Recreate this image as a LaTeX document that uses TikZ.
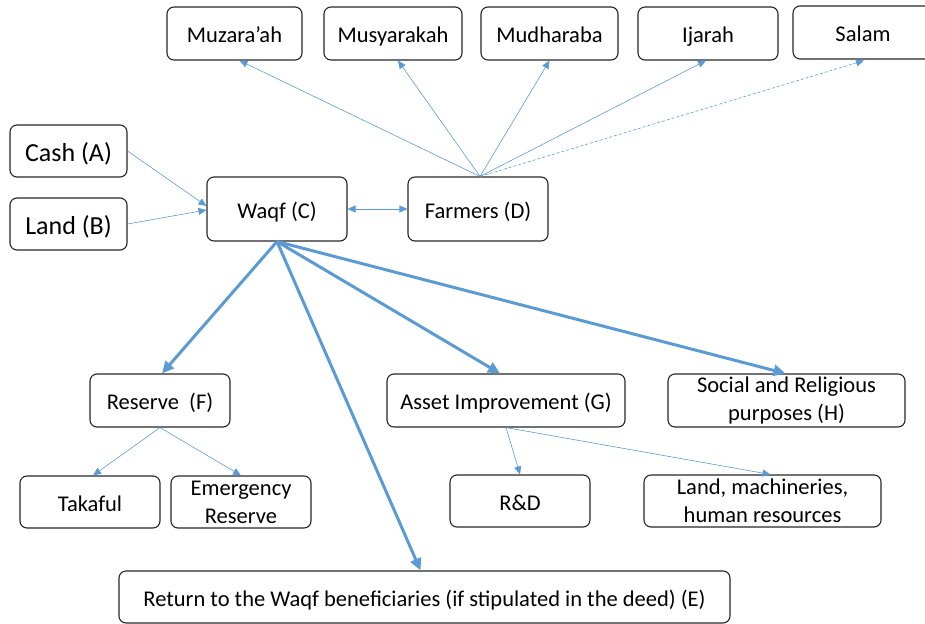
\documentclass[tikz,border=0pt]{standalone}
\usepackage{fontspec}
\setmainfont{Carlito}
\usetikzlibrary{arrows.meta,calc}
\definecolor{flow}{HTML}{5B9BD5}

\begin{document}
\begin{tikzpicture}[x=1pt,y=-1pt,
  box/.style={draw=black!85, line width=1.1pt, rounded corners=7pt,
    font=\fontsize{22.5}{28}\selectfont, align=center, inner sep=0pt,
    minimum width=140pt, minimum height=53pt},
  oneline/.style={box, text height=20pt, text depth=2pt},
  bigbox/.style={box, font=\fontsize{26}{30}\selectfont, text height=22pt, text depth=2pt},
  thinflow/.style={draw=flow, line width=0.6pt, -{Triangle[length=8pt,width=7pt]}},
  thickflow/.style={draw=flow, line width=3pt, -{Triangle[length=12pt,width=11pt]}}]
\useasboundingbox (0,0) rectangle (925,623);

% contract types
\node[oneline, minimum width=135pt] (muz) at (234.5,33.5) {Muzara’ah};
\node[oneline, minimum width=138pt] (mus) at (393,33.5) {Musyarakah};
\node[oneline, minimum width=137pt] (mud) at (549.5,33.5) {Mudharaba};
\node[oneline] (ija) at (708,33.5) {Ijarah};
\node[oneline] (sal) at (863,32.5) {Salam};

% sources and the waqf
\node[bigbox, minimum width=117pt, minimum height=52pt] (cash) at (68.5,151) {Cash (A)};
\node[bigbox, minimum width=117pt, minimum height=52pt] (land) at (68.5,224) {Land (B)};
\node[oneline, minimum height=64pt] (waqf) at (277,209) {Waqf (C)};
\node[oneline, minimum height=64pt] (farm) at (478,209) {Farmers (D)};

% uses of waqf income
\node[oneline] (res) at (160,400.5) {Reserve~ (F)};
\node[oneline, minimum width=238pt] (asset) at (506,400.5) {Asset Improvement (G)};
\node[box, minimum width=237pt] (soc) at (786.5,400.5) {Social and Religious\\purposes (H)};

\node[oneline, minimum height=52pt] (tak) at (90,502) {Takaful};
\node[box, minimum height=52pt] (emg) at (241,502) {Emergency\\Reserve};
\node[oneline, minimum height=52pt] (rd) at (520,501) {R\&D};
\node[box, minimum width=237pt, minimum height=52pt] (lmh) at (762.5,501) {Land, machineries,\\human resources};

\node[oneline, minimum width=611pt, minimum height=52pt] (ret) at (424.5,597) {Return to the Waqf beneficiaries (if stipulated in the deed) (E)};

% inputs to the waqf
\draw[thinflow] (cash.east) -- ($(waqf.west)+(0,-3)$);
\draw[thinflow] (land.east) -- ($(waqf.west)+(0,1)$);
\draw[draw=flow, line width=0.6pt, {Triangle[length=8pt,width=7pt]}-{Triangle[length=8pt,width=7pt]}]
  (waqf.east) -- (farm.west);

% farmers to contract types
\draw[thinflow] ($(farm.north)+(2,0)$) -- ($(muz.south)+(5,0)$);
\draw[thinflow] ($(farm.north)+(2,0)$) -- ($(mus.south)+(5,0)$);
\draw[thinflow] ($(farm.north)+(2,0)$) -- (mud.south);
\draw[thinflow] ($(farm.north)+(2,0)$) -- ($(ija.south)+(-2,0)$);
\draw[thinflow, dash pattern=on 3pt off 2pt] ($(farm.north)+(2,0)$) -- ($(sal.south)+(1,1)$);

% distribution of waqf income
\draw[thickflow] (waqf.south) -- ($(res.north)+(2,0)$);
\draw[thickflow] (waqf.south) -- ($(ret.north)+(-4,0)$);
\draw[thickflow] (waqf.south) -- ($(asset.north)+(-6,0)$);
\draw[thickflow] (waqf.south) -- ($(soc.north)+(-1,0)$);

% sub-allocations
\draw[thinflow] (res.south) -- ($(tak.north)+(3,0)$);
\draw[thinflow] (res.south) -- (emg.north);
\draw[thinflow] (asset.south) -- (rd.north);
\draw[thinflow] (asset.south) -- ($(lmh.north)+(8,0)$);
\end{tikzpicture}
\end{document}
